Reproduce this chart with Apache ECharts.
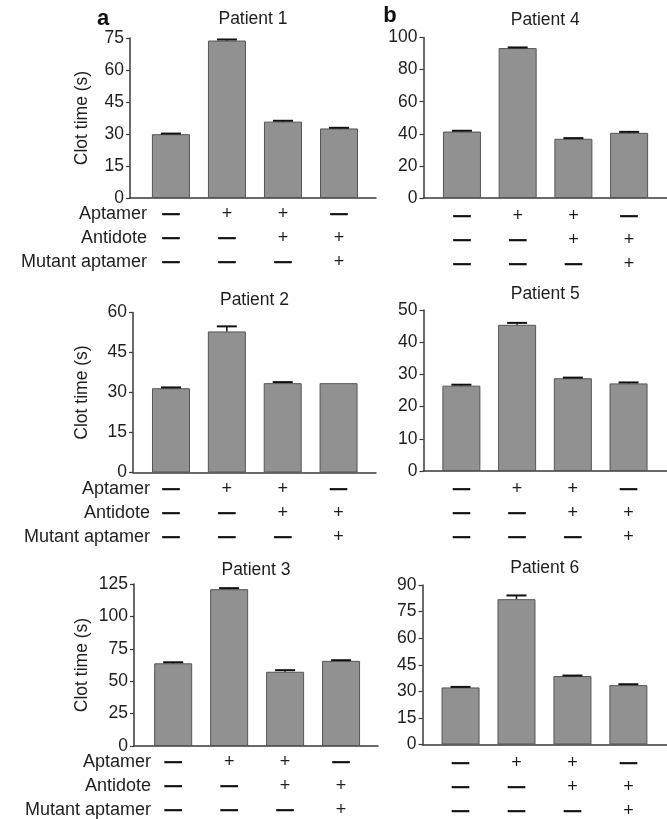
<!DOCTYPE html>
<html><head><meta charset="utf-8">
<script src="https://cdn.jsdelivr.net/npm/echarts@6/dist/echarts.min.js"></script>
<style>html,body{margin:0;padding:0;background:#fff}#c{width:667px;height:819px}</style>
</head><body><div id="c"></div>
<script>
// ---------- data ----------
const rowNames = ['Aptamer', 'Antidote', 'Mutant aptamer'];
const aptamerRow = ['-', '+', '+', '-'];
const antidoteRow = ['-', '-', '+', '+'];
const mutantRow = ['-', '-', '-', '+'];
const patientTitles = ['Patient 1', 'Patient 2', 'Patient 3', 'Patient 4', 'Patient 5', 'Patient 6'];
const patient1 = [29.9, 73.8, 35.8, 32.6];
const patient1Err = [0.3, 0.5, 0.4, 0.3];
const patient2 = [31.6, 52.9, 33.5, 33.5];
const patient2Err = [0.3, 1.9, 0.4, 0];
const patient3 = [63.8, 121.0, 57.3, 65.7];
const patient3Err = [0.8, 0.8, 1.2, 0.5];
const patient4 = [41.4, 93.4, 36.9, 40.6];
const patient4Err = [0.5, 0.4, 0.4, 0.6];
const patient5 = [26.5, 45.4, 28.8, 27.2];
const patient5Err = [0.3, 0.6, 0.2, 0.3];
const patient6 = [32.2, 82.0, 38.6, 33.5];
const patient6Err = [0.3, 2.1, 0.3, 0.5];
const yMaxes = [75, 60, 125, 100, 50, 90];
const ySteps = [15, 15, 25, 20, 10, 15];
const yAxisTitle = 'Clot time (s)';
const panelLetters = ['a', 'b'];

const values = [patient1, patient2, patient3, patient4, patient5, patient6];
const errors = [patient1Err, patient2Err, patient3Err, patient4Err, patient5Err, patient6Err];

// ---------- layout (pixels) ----------
const layout = [
  {l: 130,   r: 376, t: 38,    b: 198,   xMin: -0.73, xMax: 3.66, gap: 39,   lm: 4,   side: 'a', ty: 10},
  {l: 133,   r: 376, t: 312.5, b: 472.5, xMin: -0.68, xMax: 3.67, gap: 41.5, lm: 4.5, side: 'a', ty: 291},
  {l: 134,   r: 378, t: 584,   b: 746,   xMin: -0.70, xMax: 3.66, gap: 42.5, lm: 4.5, side: 'a', ty: 561.5},
  {l: 423.5, r: 667, t: 37.5,  b: 198,   xMin: -0.69, xMax: 3.68, gap: 0,    lm: 6.5, side: 'b', ty: 11},
  {l: 423.5, r: 667, t: 310,   b: 471,   xMin: -0.68, xMax: 3.69, gap: 0,    lm: 6.5, side: 'b', ty: 285.5},
  {l: 422.5, r: 667, t: 585,   b: 744.5, xMin: -0.68, xMax: 3.69, gap: 0,    lm: 6.5, side: 'b', ty: 559.5}
];

const FONT = 'Liberation Sans, Arial, Helvetica, sans-serif';
const TXT = '#1e1e1e';
const AX = '#3a3a3a';

function sym(s) { return s === '+' ? '{p|+}' : '{m|—}'; }

const grids = [], xAxes = [], yAxes = [], series = [], titles = [], graphics = [];
layout.forEach((g, i) => {
  grids.push({left: g.l, top: g.t, width: g.r - g.l, height: g.b - g.t, containLabel: false, outerBoundsMode: 'none'});
  xAxes.push({
    gridIndex: i, type: 'value', min: g.xMin, max: g.xMax,
    axisLine: {show: true, onZero: false, lineStyle: {color: AX, width: 1.5}},
    axisTick: {show: false}, splitLine: {show: false},
    axisLabel: {
      customValues: [0, 1, 2, 3],
      margin: g.lm, color: TXT, fontFamily: FONT, fontSize: 17, align: 'center',
      formatter: function (v) {
        const k = Math.round(v);
        return sym(aptamerRow[k]) + '\n' + sym(antidoteRow[k]) + '\n' + sym(mutantRow[k]);
      },
      rich: {
        p: {fontSize: 18, fontFamily: FONT, color: TXT, lineHeight: 24, align: 'center'},
        m: {fontSize: 17, fontWeight: 'bold', fontFamily: FONT, color: '#111', lineHeight: 24, align: 'center', textBorderColor: '#111', textBorderWidth: 0.6}
      }
    }
  });
  const y = {
    gridIndex: i, type: 'value', min: 0, max: yMaxes[i], interval: ySteps[i],
    axisLine: {show: true, onZero: false, lineStyle: {color: AX, width: 1.5}},
    axisTick: {show: true, inside: false, length: 4, lineStyle: {color: AX, width: 1.2}},
    splitLine: {show: false},
    axisLabel: {color: TXT, fontFamily: FONT, fontSize: 17.5, margin: 6}
  };
  if (g.side === 'a') {
    y.name = yAxisTitle; y.nameLocation = 'middle'; y.nameGap = g.gap;
    y.nameTextStyle = {color: TXT, fontFamily: FONT, fontSize: 17.5};
  }
  yAxes.push(y);
  series.push({
    type: 'bar', xAxisIndex: i, yAxisIndex: i, barWidth: 38,
    data: values[i].map((v, j) => [j, v]),
    itemStyle: {color: '#919191', borderColor: '#555555', borderWidth: 1},
    silent: true, animation: false
  });
  series.push({
    type: 'custom', xAxisIndex: i, yAxisIndex: i, z: 5,
    data: values[i].map((v, j) => [j, v, errors[i][j]]),
    encode: {x: 0, y: 1},
    renderItem: function (params, api) {
      const x = api.value(0), m = api.value(1), e = api.value(2);
      if (!e) return null;
      const base = api.coord([x, m]);
      const top = api.coord([x, m + e]);
      return {
        type: 'group', children: [
          {type: 'line', shape: {x1: top[0], y1: base[1], x2: top[0], y2: top[1]}, style: {stroke: '#111', lineWidth: 1.5}},
          {type: 'line', shape: {x1: top[0] - 10, y1: top[1], x2: top[0] + 10, y2: top[1]}, style: {stroke: '#111', lineWidth: 2}}
        ]
      };
    },
    silent: true, animation: false
  });
  titles.push({
    text: patientTitles[i], left: (g.l + g.r) / 2, top: g.ty, textAlign: 'center', padding: 0,
    textStyle: {color: TXT, fontFamily: FONT, fontSize: 17.5, fontWeight: 'normal'}
  });
  if (g.side === 'a') {
    graphics.push({
      type: 'text', x: g.l + 17, y: g.b + g.lm, silent: true,
      style: {text: rowNames.join('\n'), align: 'right', verticalAlign: 'top', textAlign: 'right', textVerticalAlign: 'top',
        font: '18px ' + FONT, fontSize: 18, fontFamily: FONT, lineHeight: 24, fill: TXT}
    });
  }
});
titles.push({text: panelLetters[0], left: 103, top: 8, textAlign: 'center', padding: 0,
  textStyle: {color: '#111', fontFamily: FONT, fontSize: 22, fontWeight: 'bold'}});
titles.push({text: panelLetters[1], left: 390, top: 5, textAlign: 'center', padding: 0,
  textStyle: {color: '#111', fontFamily: FONT, fontSize: 22, fontWeight: 'bold'}});

const chart = echarts.init(document.getElementById('c'), null, {renderer: 'canvas'});
chart.setOption({
  animation: false, backgroundColor: '#ffffff',
  title: titles, grid: grids, xAxis: xAxes, yAxis: yAxes, series: series, graphic: graphics
});
</script></body></html>
